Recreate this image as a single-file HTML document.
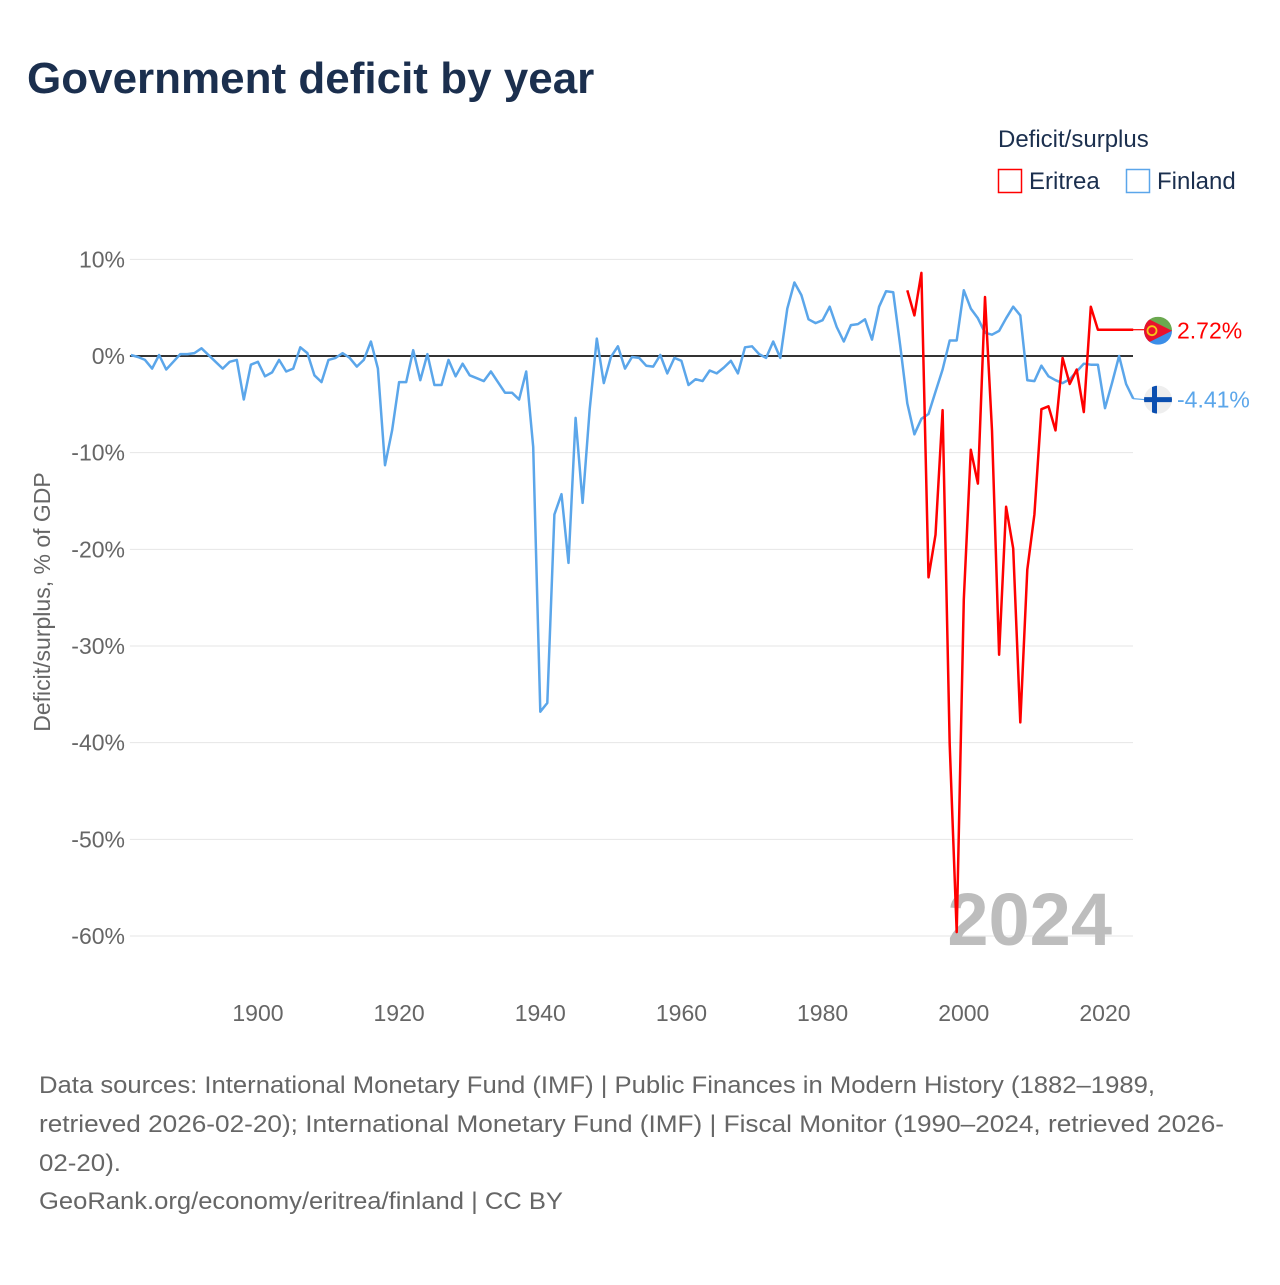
<!DOCTYPE html>
<html><head><meta charset="utf-8"><style>
body{margin:0;background:#fff;font-family:"Liberation Sans",sans-serif}
</style></head><body>
<svg width="1280" height="1280" viewBox="0 0 1280 1280" xmlns="http://www.w3.org/2000/svg">
<text x="27" y="93" font-size="44" font-weight="bold" fill="#1b2f4e">Government deficit by year</text>
<g>
<text x="998" y="147" font-size="24" fill="#1b2f4e">Deficit/surplus</text>
<rect x="998.5" y="169.5" width="23" height="23" fill="none" stroke="#f00" stroke-width="1.5"/>
<text x="1029" y="189" font-size="24" fill="#1b2f4e">Eritrea</text>
<rect x="1126.5" y="169.5" width="23" height="23" fill="none" stroke="#5ba6ea" stroke-width="1.5"/>
<text x="1157" y="189" font-size="24" fill="#1b2f4e">Finland</text>
</g>
<g id="grid"></g>
<text x="1112" y="945" font-size="74" font-weight="bold" fill="#bdbdbd" text-anchor="end">2024</text>
<g id="series"></g>
<text transform="translate(50,602) rotate(-90)" font-size="23" fill="#666" text-anchor="middle">Deficit/surplus, % of GDP</text>
<g font-size="24" fill="#666">
<text x="39" y="1093" textLength="1116" lengthAdjust="spacingAndGlyphs">Data sources: International Monetary Fund (IMF) | Public Finances in Modern History (1882–1989,</text>
<text x="39" y="1132" textLength="1185" lengthAdjust="spacingAndGlyphs">retrieved 2026-02-20); International Monetary Fund (IMF) | Fiscal Monitor (1990–2024, retrieved 2026-</text>
<text x="39" y="1171" textLength="82" lengthAdjust="spacingAndGlyphs">02-20).</text>
<text x="39" y="1209" textLength="524" lengthAdjust="spacingAndGlyphs">GeoRank.org/economy/eritrea/finland | CC BY</text>
</g>
</svg>
<script>
const yTicks=[10,0,-10,-20,-30,-40,-50,-60];
const xTicks=[1900,1920,1940,1960,1980,2000,2020];
const finlandStart=1882;
const finland=[0.1,-0.1,-0.4,-1.3,0.1,-1.4,-0.6,0.2,0.2,0.3,0.8,0.1,-0.6,-1.3,-0.6,-0.4,-4.5,-0.9,-0.6,-2.1,-1.7,-0.4,-1.6,-1.3,0.9,0.3,-2.0,-2.7,-0.4,-0.2,0.3,-0.2,-1.1,-0.4,1.5,-1.3,-11.3,-7.7,-2.7,-2.7,0.6,-2.5,0.2,-3.0,-3.0,-0.4,-2.1,-0.8,-2.0,-2.3,-2.6,-1.6,-2.7,-3.8,-3.8,-4.5,-1.6,-9.4,-36.8,-35.9,-16.4,-14.3,-21.4,-6.4,-15.2,-5.5,1.8,-2.8,-0.1,1.0,-1.3,-0.1,-0.2,-1.0,-1.1,0.1,-1.8,-0.2,-0.5,-3.0,-2.4,-2.6,-1.5,-1.8,-1.2,-0.5,-1.8,0.9,1.0,0.2,-0.2,1.5,-0.2,4.9,7.6,6.3,3.8,3.4,3.7,5.1,3.0,1.5,3.2,3.3,3.8,1.7,5.1,6.7,6.6,1.0,-4.9,-8.1,-6.5,-6.0,-3.7,-1.4,1.6,1.6,6.8,4.9,3.9,2.4,2.2,2.6,3.9,5.1,4.2,-2.5,-2.6,-1.0,-2.1,-2.5,-2.8,-2.4,-1.6,-0.8,-0.9,-0.9,-5.4,-2.8,0.0,-2.9,-4.41];
const eritreaStart=1992;
const eritrea=[6.8,4.2,8.6,-22.9,-18.5,-5.6,-40.2,-59.6,-25.2,-9.7,-13.2,6.1,-7.7,-30.9,-15.6,-19.9,-37.9,-22.1,-16.4,-5.5,-5.2,-7.7,-0.2,-2.9,-1.4,-5.8,5.1,2.72,2.72,2.72,2.72,2.72,2.72];
const NS="http://www.w3.org/2000/svg";
const X0=130.9,X1=1133;
const xs=yr=>X0+(yr-1882)*(1105-258)/120;
const ys=v=>356-v*9.6667;
function mk(tag,attrs,parent){const e=document.createElementNS(NS,tag);for(const k in attrs)e.setAttribute(k,attrs[k]);parent.appendChild(e);return e;}
const grid=document.getElementById('grid');
yTicks.forEach(t=>{
  const l=mk('line',{x1:X0-1,x2:X1,y1:ys(t),y2:ys(t),stroke:t===0?'#333':'#e6e6e6','stroke-width':t===0?2:1},grid);
  
  
  const tx=mk('text',{x:125,y:ys(t)+8,'font-size':23,fill:'#666','text-anchor':'end'},grid);
  tx.textContent=t+'%';
  
  
});
xTicks.forEach(t=>{
  const tx=mk('text',{x:xs(t),y:1021,'font-size':23,fill:'#666','text-anchor':'middle'},grid);
  tx.textContent=t;
  
  
});
const ser=document.getElementById('series');
function line(data,start,color,name){
  const pts=data.map((v,i)=>xs(start+i).toFixed(1)+','+ys(v).toFixed(1)).join(' ');
  const p=mk('polyline',{points:pts,fill:'none',stroke:color,'stroke-width':2.5,'stroke-linejoin':'round'},ser);
  
  
}
line(finland,finlandStart,'#5ba6ea','finland-line');
line(eritrea,eritreaStart,'#ff0000','eritrea-line');
const eLast=eritrea[eritrea.length-1], fLast=finland[finland.length-1];
const c1=mk('line',{x1:X1,x2:1145,y1:ys(eLast),y2:ys(eLast),stroke:'#f00','stroke-width':1.2},ser);


const c2=mk('line',{x1:X1,x2:1145,y1:ys(fLast),y2:ys(fLast)+1,stroke:'#5ba6ea','stroke-width':1.2},ser);


const ey=ys(eLast)+1, fy=ys(fLast)+1;
const ef=mk('g',{},ser);


mk('defs',{},ef).innerHTML='<clipPath id="ce"><circle cx="1158" cy="'+ey+'" r="14"/></clipPath><clipPath id="cf"><circle cx="1158" cy="'+fy+'" r="14"/></clipPath>';
const eg=mk('g',{'clip-path':'url(#ce)'},ef);
mk('rect',{x:1144,y:ey-14,width:28,height:14,fill:'#6aa84f'},eg);
mk('rect',{x:1144,y:ey,width:28,height:14,fill:'#3b8ee8'},eg);
mk('polygon',{points:`1144,${ey-14} 1172,${ey} 1144,${ey+14}`,fill:'#e8112d'},eg);
mk('circle',{cx:1152,cy:ey,r:4.5,fill:'none',stroke:'#f5c518','stroke-width':1.8},eg);
const ff=mk('g',{'clip-path':'url(#cf)'},ser);


mk('rect',{x:1144,y:fy-14,width:28,height:28,fill:'#eee'},ff);
mk('rect',{x:1144,y:fy-2.5,width:28,height:5,fill:'#0b4fb0'},ff);
mk('rect',{x:1152,y:fy-14,width:5,height:28,fill:'#0b4fb0'},ff);
const t1=mk('text',{x:1177,y:ey+8,'font-size':23,fill:'#f00'},ser);
t1.textContent=eLast.toFixed(2)+'%';


const t2=mk('text',{x:1177,y:fy+8,'font-size':23,fill:'#5ba6ea'},ser);
t2.textContent=fLast.toFixed(2)+'%';


</script>
</body></html>
